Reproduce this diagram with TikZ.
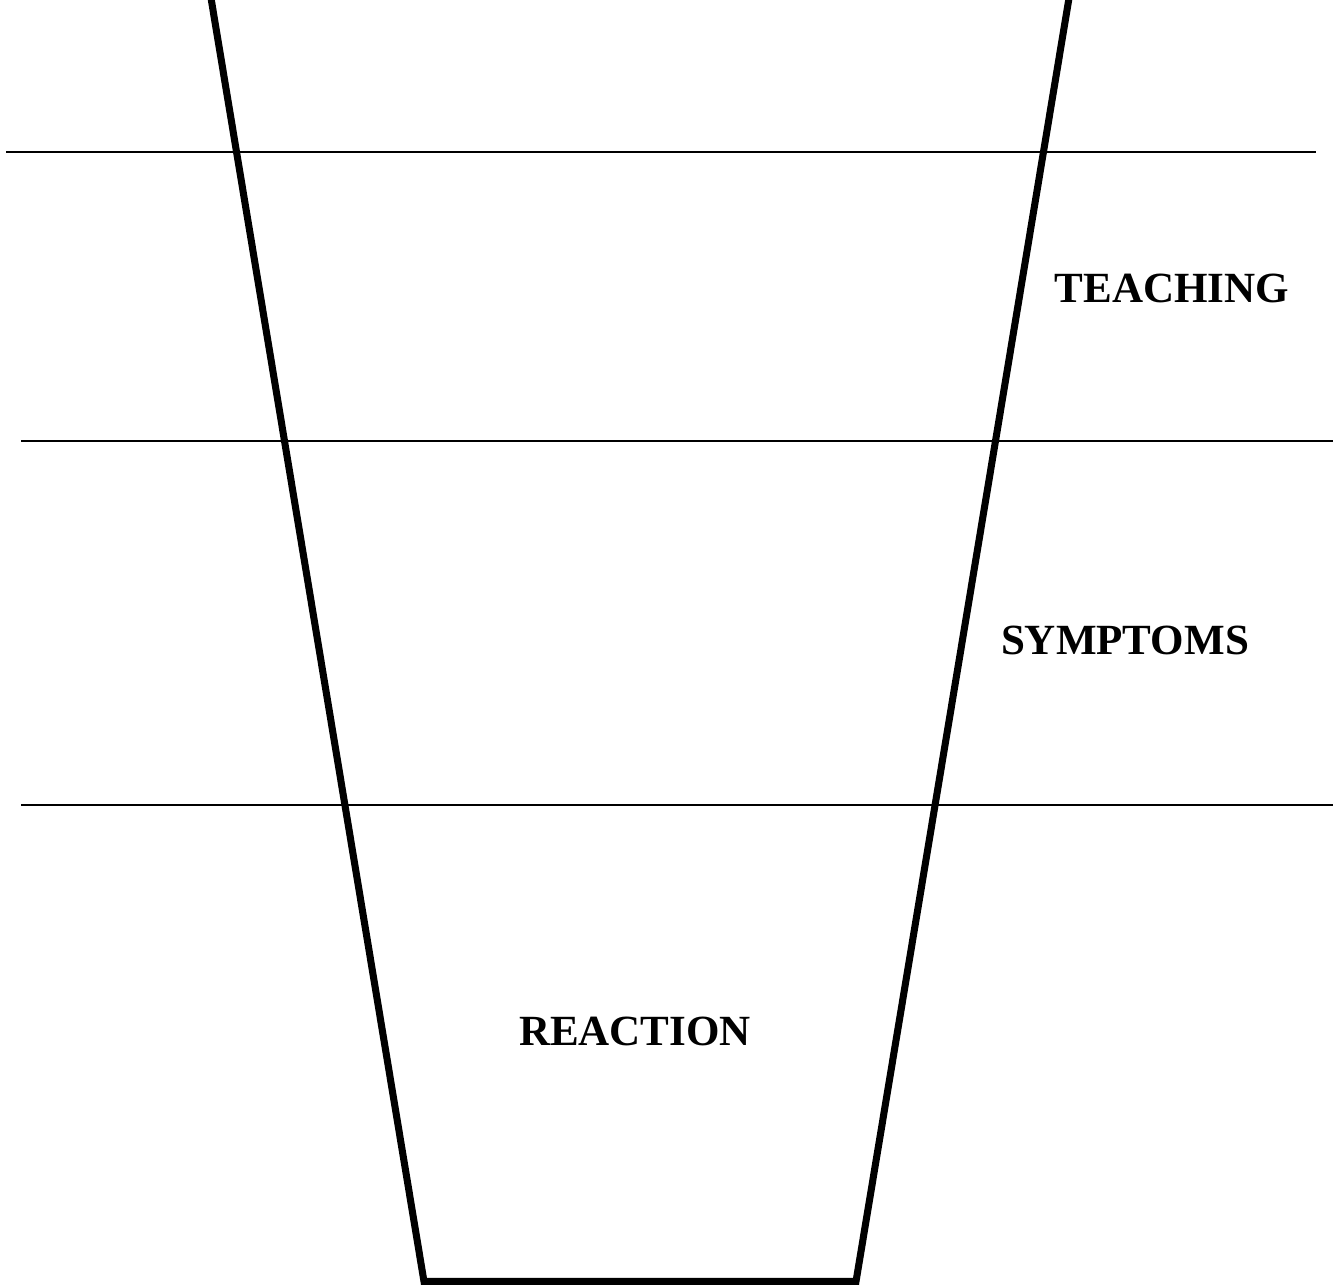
\documentclass[tikz,border=0pt]{standalone}
\usepackage{fontspec}
\setmainfont{Liberation Serif}
\tikzset{
  funnel/.style={line width=4pt, line join=miter},
  band/.style={line width=0.85pt},
  stage/.style={font=\fontsize{24.5}{28}\selectfont\bfseries, inner sep=0pt}
}
\begin{document}
\begin{tikzpicture}[x=0.02cm, y=-0.02cm]
\useasboundingbox (0,0) rectangle (1333,1285);
\clip (0,0) rectangle (1333,1285);
% funnel outline
\coordinate (topleft) at (208,-20);
\coordinate (botleft) at (424,1281.5);
\coordinate (botright) at (856,1281.5);
\coordinate (topright) at (1072,-20);
\draw[funnel] (topleft) -- (botleft) -- (botright) -- (topright);
% band lines
\draw[band] (6,152) -- (1316,152);
\draw[band] (21,441) -- (1333,441);
\draw[band] (21,805) -- (1333,805);
% labels
\node[stage] (teaching) at (1172,288) {TEACHING};
\node[stage] (symptoms) at (1125,640) {SYMPTOMS};
\node[stage] (reaction) at (635,1031) {REACTION};
\end{tikzpicture}
\end{document}
